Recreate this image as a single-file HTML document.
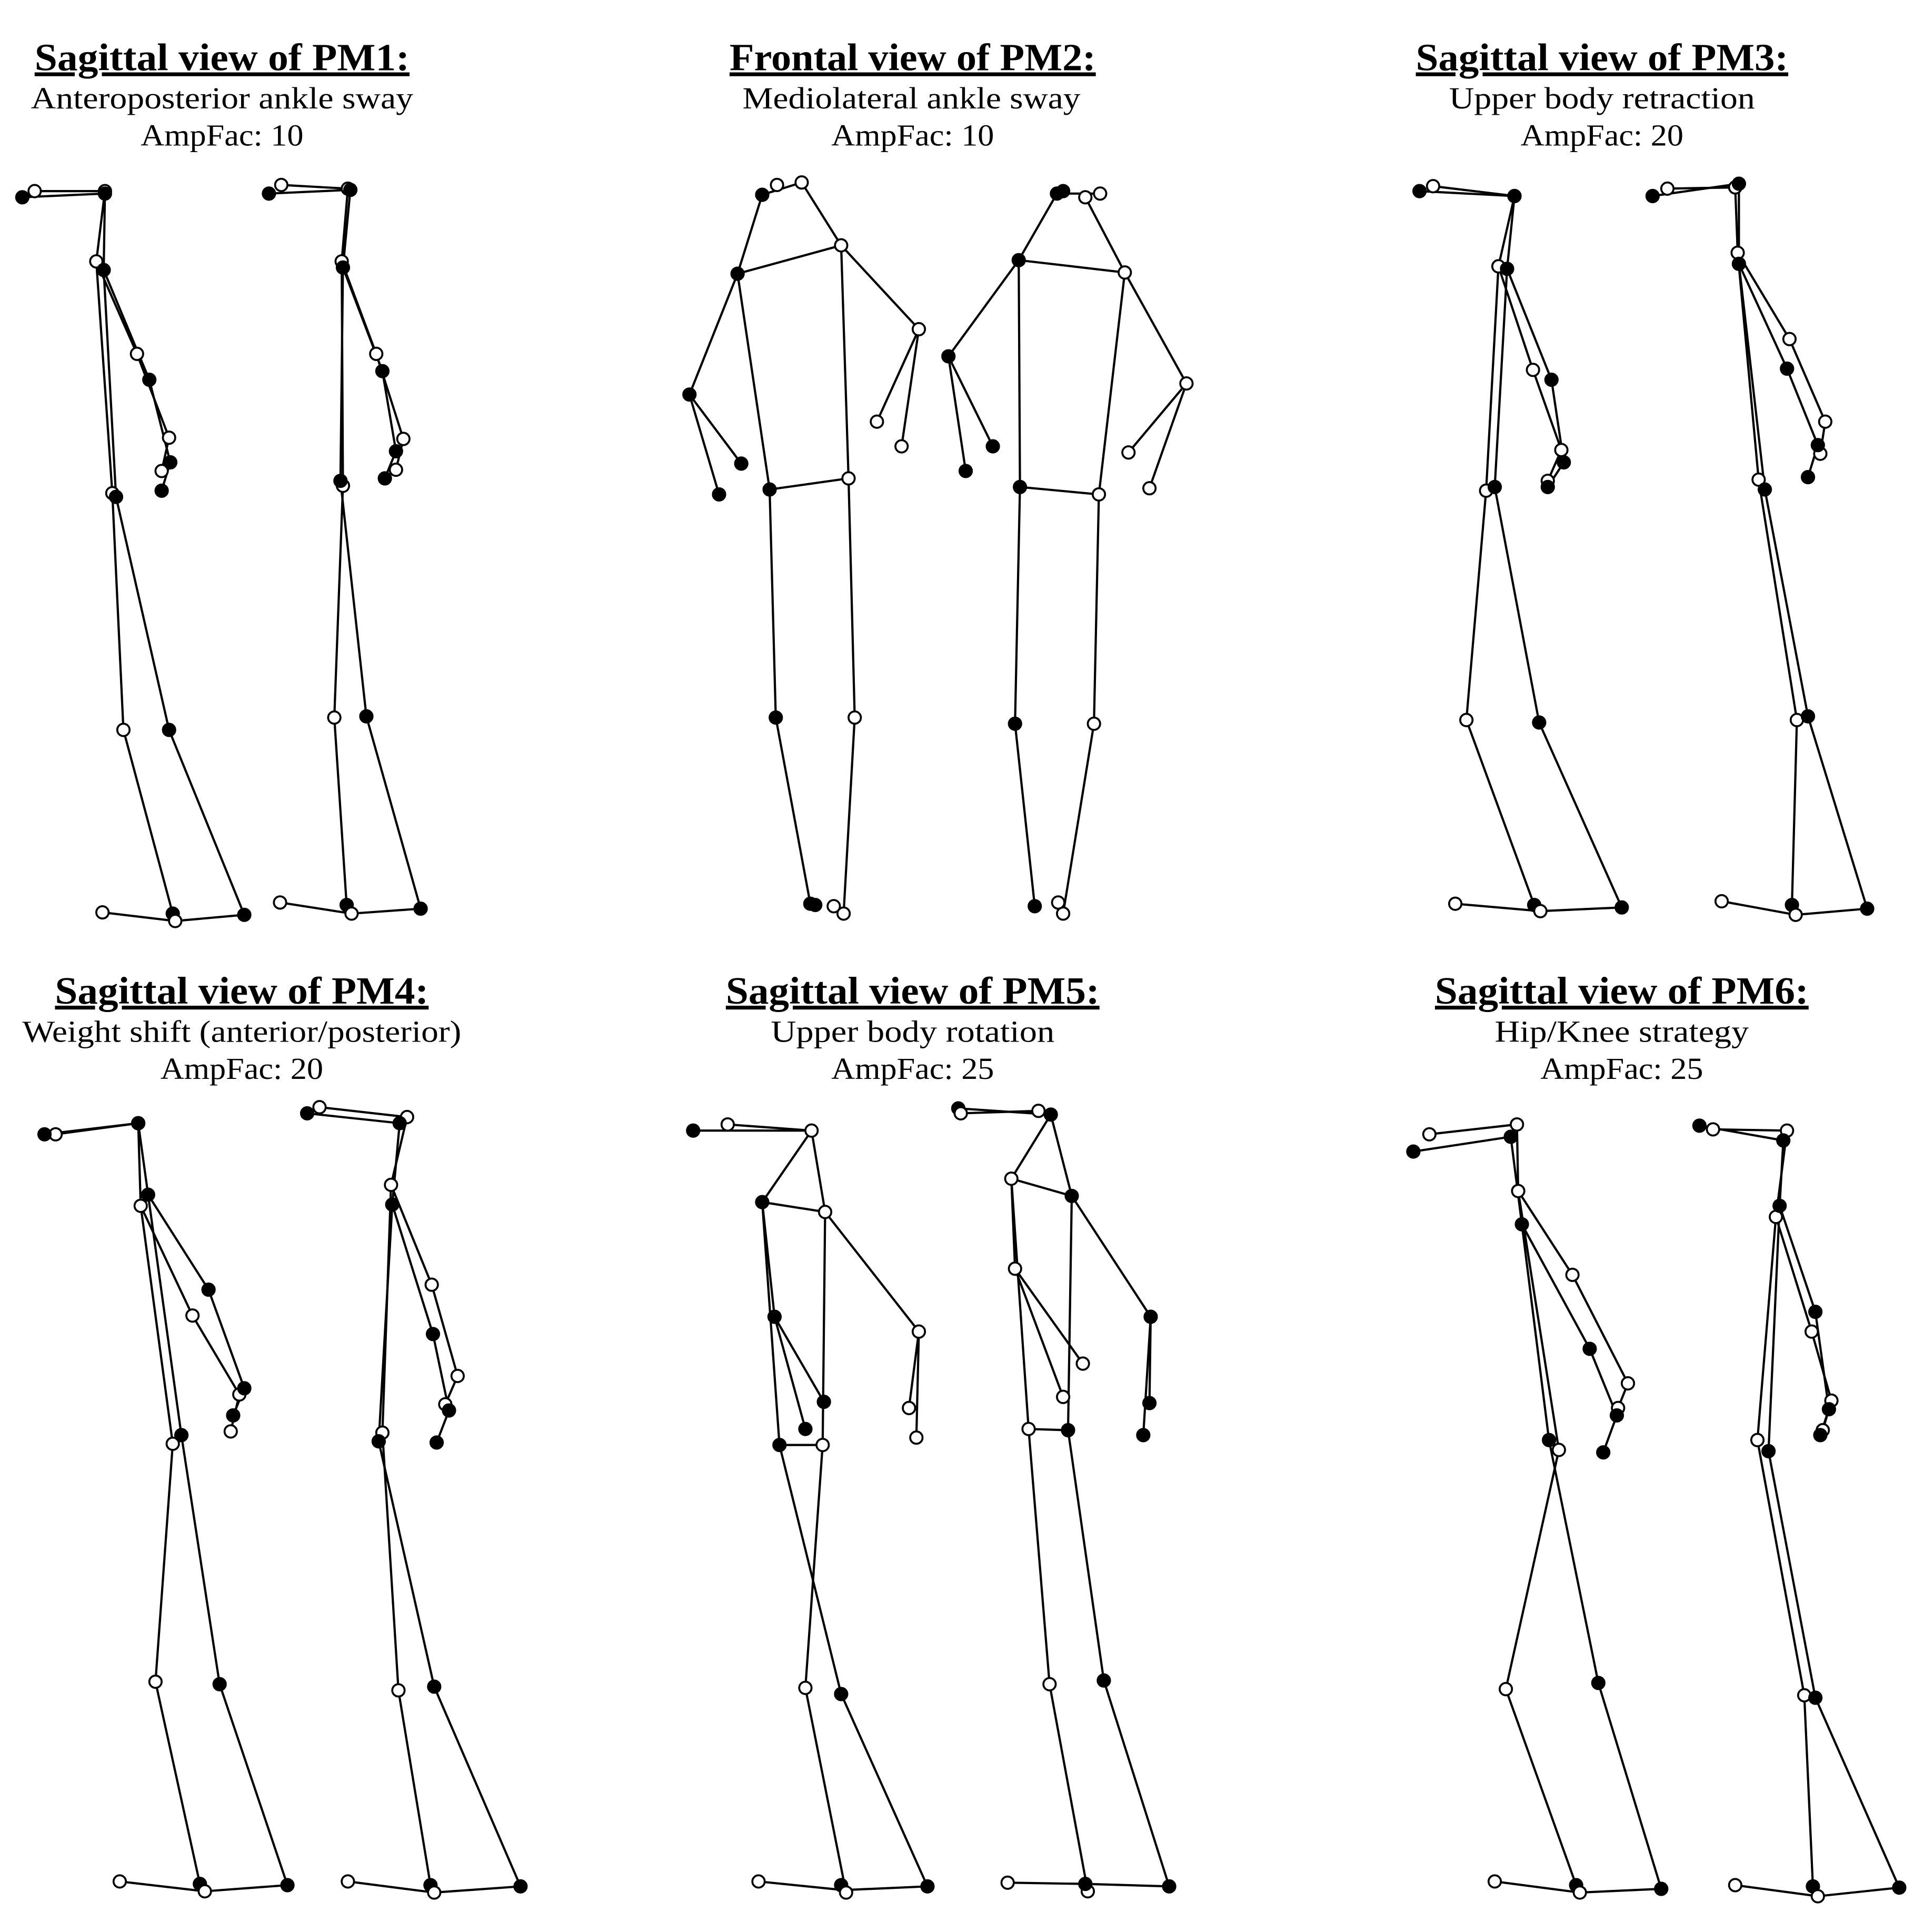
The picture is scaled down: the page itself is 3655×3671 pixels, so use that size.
<!DOCTYPE html>
<html><head><meta charset="utf-8"><style>
html,body{margin:0;padding:0;background:#fff}
svg{display:block}
text{font-family:"Liberation Serif",serif;text-anchor:middle;fill:#000}
.t{font-size:31px;font-weight:bold;text-decoration:underline}
.s{font-size:25px}
</style></head><body>
<svg id="c" width="3655" height="3671" viewBox="0 0 1560 1567" xmlns="http://www.w3.org/2000/svg">
<rect width="1560" height="1567" fill="#fff"/>
<text class="t" x="180" y="57" textLength="304" lengthAdjust="spacingAndGlyphs">Sagittal view of PM1:</text>
<text class="s" x="180" y="88" textLength="310" lengthAdjust="spacingAndGlyphs">Anteroposterior ankle sway</text>
<text class="s" x="180" y="118" textLength="132" lengthAdjust="spacingAndGlyphs">AmpFac: 10</text>
<text class="t" x="740" y="57" textLength="297" lengthAdjust="spacingAndGlyphs">Frontal view of PM2:</text>
<text class="s" x="739" y="88" textLength="274" lengthAdjust="spacingAndGlyphs">Mediolateral ankle sway</text>
<text class="s" x="740" y="118" textLength="132" lengthAdjust="spacingAndGlyphs">AmpFac: 10</text>
<text class="t" x="1299" y="57" textLength="302" lengthAdjust="spacingAndGlyphs">Sagittal view of PM3:</text>
<text class="s" x="1299" y="88" textLength="248" lengthAdjust="spacingAndGlyphs">Upper body retraction</text>
<text class="s" x="1299" y="118" textLength="132" lengthAdjust="spacingAndGlyphs">AmpFac: 20</text>
<text class="t" x="196" y="814" textLength="303" lengthAdjust="spacingAndGlyphs">Sagittal view of PM4:</text>
<text class="s" x="196" y="845" textLength="356" lengthAdjust="spacingAndGlyphs">Weight shift (anterior/posterior)</text>
<text class="s" x="196" y="875" textLength="132" lengthAdjust="spacingAndGlyphs">AmpFac: 20</text>
<text class="t" x="740" y="814" textLength="303" lengthAdjust="spacingAndGlyphs">Sagittal view of PM5:</text>
<text class="s" x="740" y="845" textLength="230" lengthAdjust="spacingAndGlyphs">Upper body rotation</text>
<text class="s" x="740" y="875" textLength="132" lengthAdjust="spacingAndGlyphs">AmpFac: 25</text>
<text class="t" x="1315" y="814" textLength="303" lengthAdjust="spacingAndGlyphs">Sagittal view of PM6:</text>
<text class="s" x="1315" y="845" textLength="206" lengthAdjust="spacingAndGlyphs">Hip/Knee strategy</text>
<text class="s" x="1315" y="875" textLength="132" lengthAdjust="spacingAndGlyphs">AmpFac: 25</text>
<g id="L" stroke="#000" stroke-width="1.8" fill="none"></g>
<g id="P" stroke="#000" stroke-width="1.6"></g>
</svg>
<script>
var L=document.getElementById('L'),P=document.getElementById('P'),NS='http://www.w3.org/2000/svg';
function line(pts){var e=document.createElementNS(NS,'polyline');e.setAttribute('points',pts.map(function(p){return p.join(',')}).join(' '));L.appendChild(e);}
function dot(p,f){var e=document.createElementNS(NS,'circle');e.setAttribute('cx',p[0]);e.setAttribute('cy',p[1]);e.setAttribute('r',5);e.setAttribute('fill',f?'#000':'#fff');P.appendChild(e);}
function sag(o,f,ankF,ankO,toe,heel){
 [[o,0],[f,1]].forEach(function(a){var q=a[0];
  line([q[0],q[1],q[2],q[3],q[4],q[5]]);line([q[2],q[6],q[7],a[1]?toe:ankF]);});
 line([heel,ankO,toe]);
 [[o,0],[f,1]].forEach(function(a){a[0].forEach(function(p){dot(p,a[1])});});
 dot(heel,0);dot(ankF,1);dot(ankO,0);dot(toe,1);
}
sag([[28,155],[85,155],[78,212],[111,287],[137,355],[131,382],[91,400],[100,592]],
    [[18,160],[85,157],[84,219],[121,308],[138,375],[131,398],[94,403],[137,592]],[140,741],[142,747],[198,742],[83,740]);
sag([[228,150],[282,153],[277,212],[305,287],[327,356],[321,381],[278,394],[271,582]],
    [[218,157],[284,154],[278,217],[310,301],[321,366],[312,388],[276,390],[297,581]],[281,734],[285,741],[341,737],[227,732]);
sag([[1162,151],[1228,159],[1215,216],[1243,300],[1266,365],[1255,390],[1205,398],[1189,584]],
    [[1151,155],[1228,159],[1222,218],[1258,308],[1268,375],[1255,395],[1212,395],[1248,586]],[1244,734],[1249,739],[1315,736],[1180,733]);
sag([[1352,153],[1407,152],[1409,205],[1451,275],[1480,342],[1476,368],[1426,389],[1457,584]],
    [[1340,159],[1410,149],[1410,214],[1449,299],[1474,361],[1466,387],[1431,397],[1466,581]],[1453,734],[1456,742],[1514,737],[1396,731]);
sag([[45,920],[112,911],[114,978],[156,1067],[194,1131],[187,1161],[140,1171],[126,1364]],
    [[36,920],[112,911],[120,969],[169,1046],[198,1126],[189,1148],[147,1164],[178,1366]],[162,1528],[166,1534],[233,1529],[97,1526]);
sag([[259,898],[330,906],[317,961],[350,1042],[371,1116],[361,1139],[310,1162],[323,1371]],
    [[249,903],[324,911],[318,977],[351,1082],[364,1144],[354,1170],[307,1169],[352,1368]],[349,1529],[352,1535],[422,1530],[282,1526]);
sag([[1159,920],[1230,912],[1231,966],[1275,1034],[1320,1122],[1312,1142],[1264,1176],[1221,1370]],
    [[1146,934],[1225,922],[1234,993],[1289,1094],[1311,1148],[1300,1178],[1256,1168],[1296,1365]],[1278,1529],[1281,1535],[1347,1532],[1212,1526]);
sag([[1389,916],[1449,917],[1440,987],[1469,1080],[1485,1136],[1478,1160],[1425,1168],[1463,1375]],
    [[1378,913],[1446,925],[1443,978],[1472,1064],[1483,1143],[1476,1164],[1434,1177],[1472,1377]],[1470,1530],[1474,1538],[1540,1531],[1407,1529]);
function front(spec){
 var s=spec;
 line([s.h1,s.sL]);line([s.h2,s.sR]);line([s.sL,s.sR]);
 line([s.sL,s.eL,s.aL]);line([s.eL,s.bL]);
 line([s.sR,s.eR,s.aR]);line([s.eR,s.bR]);
 line([s.sL,s.hL,s.hR,s.sR]);
 line([s.hL,s.kL,s.fL]);line([s.hR,s.kR,s.fR]);
 if(s.extra)s.extra.forEach(function(x){line(x)});
 s.dots.forEach(function(d){dot(d[0],d[1])});
}
front({h1:[618,158],h2:[650,148],sL:[598,222],sR:[682,199],eL:[559,320],aL:[583,401],bL:[601,376],eR:[745,267],aR:[731,362],bR:[711,342],hL:[624,397],hR:[688,388],kL:[629,582],fL:[657,733],kR:[693,582],fR:[684,741],
 extra:[[[618,158],[650,148]]],
 dots:[[[618,158],1],[[630,150],0],[[650,148],0],[[598,222],1],[[682,199],0],[[559,320],1],[[583,401],1],[[601,376],1],[[745,267],0],[[731,362],0],[[711,342],0],[[624,397],1],[[688,388],0],[[629,582],1],[[657,733],1],[[661,734],1],[[693,582],0],[[684,741],0],[[676,735],0]]});
front({h1:[857,157],h2:[880,160],sL:[826,211],sR:[912,221],eL:[769,289],aL:[783,382],bL:[805,362],eR:[962,311],aR:[932,396],bR:[915,367],hL:[827,395],hR:[891,401],kL:[823,587],fL:[839,735],kR:[887,587],fR:[862,741],
 extra:[[[857,157],[892,157]]],
 dots:[[[857,157],1],[[862,155],1],[[880,160],0],[[892,157],0],[[826,211],1],[[912,221],0],[[769,289],1],[[783,382],1],[[805,362],1],[[962,311],0],[[932,396],0],[[915,367],0],[[827,395],1],[[891,401],0],[[823,587],1],[[839,735],1],[[887,587],0],[[862,741],0],[[858,732],0]]});
front({h1:[658,917],h2:[658,917],sL:[618,975],sR:[669,983],eL:[628,1068],aL:[653,1159],bL:[668,1137],eR:[745,1080],aR:[743,1166],bR:[737,1142],hL:[632,1172],hR:[667,1172],kL:[682,1374],fL:[752,1530],kR:[653,1369],fR:[686,1535],
 extra:[[[562,917],[658,917]],[[590,912],[658,917]],[[615,1526],[684,1533],[752,1530]]],
 dots:[[[562,917],1],[[590,912],0],[[658,917],0],[[618,975],1],[[669,983],0],[[628,1068],1],[[653,1159],1],[[668,1137],1],[[745,1080],0],[[743,1166],0],[[737,1142],0],[[632,1172],1],[[667,1172],0],[[682,1374],1],[[653,1369],0],[[682,1529],1],[[686,1535],0],[[752,1530],1],[[615,1526],0]]});
front({h1:[852,904],h2:[852,904],sL:[820,956],sR:[869,970],eL:[823,1029],aL:[862,1133],bL:[878,1106],eR:[933,1068],aR:[927,1164],bR:[932,1138],hL:[834,1159],hR:[866,1160],kL:[851,1366],fL:[882,1534],kR:[895,1363],fR:[948,1530],
 extra:[[[777,899],[852,904]],[[779,903],[842,901]],[[817,1527],[880,1528],[948,1530]]],
 dots:[[[777,899],1],[[779,903],0],[[852,904],1],[[842,901],0],[[820,956],0],[[869,970],1],[[823,1029],0],[[862,1133],0],[[878,1106],0],[[933,1068],1],[[927,1164],1],[[932,1138],1],[[834,1159],0],[[866,1160],1],[[851,1366],0],[[895,1363],1],[[882,1534],0],[[880,1528],1],[[948,1530],1],[[817,1527],0]]});
</script>
</body></html>
